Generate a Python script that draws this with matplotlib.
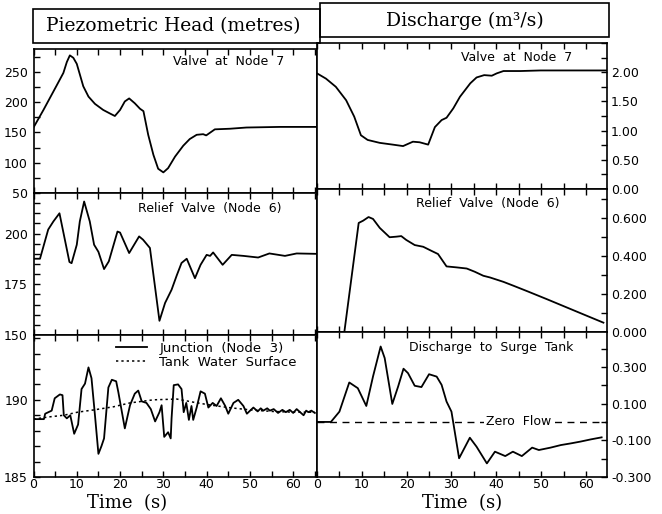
import numpy as np
import matplotlib
matplotlib.use("Agg")
import matplotlib.pyplot as plt
from matplotlib.patches import Rectangle
from matplotlib.ticker import MultipleLocator, FormatStrFormatter

plt.rcParams['font.family'] = 'DejaVu Sans'

### Data

# piezometric head at valve (node 7), m
t_h7 = [0, 2.3, 5.4, 6.9, 7.7, 8.4, 9.2, 10.0, 11.5, 12.7, 14.2, 16.1, 17.7, 18.8, 20.0,
        21.1, 22.1, 23.4, 24.6, 25.4, 26.5, 27.7, 28.8, 30.0, 31.1, 32.7, 34.6, 36.1,
        37.7, 39.2, 39.9, 41.9, 45.4, 49.2, 56.9, 65.5]
h_h7 = [158, 187, 228, 248, 266, 277, 273, 263, 226, 209, 197, 187, 181, 177, 187,
        201, 206, 198, 189, 185, 146, 113, 90, 84, 91, 110, 128, 139,
        146, 147, 145, 155, 156, 158, 159, 159]

# head at relief valve (node 6), m
t_h6 = [0, 1.5, 3.4, 4.6, 6.0, 8.3, 8.8, 10.0, 10.7, 11.7, 13.0, 14.0, 15.0, 16.3, 17.4,
        19.4, 20.0, 22.1, 24.4, 25.3, 26.9, 29.1, 30.4, 31.9, 33.1, 34.2, 35.4, 37.3,
        38.6, 40.0, 40.8, 41.5, 43.7, 45.8, 48.5, 51.9, 54.5, 58.1, 60.8, 65.5]
h_h6 = [187.6, 187.6, 202, 206, 210, 186, 185.4, 194.5, 206, 215.8, 206, 194.5, 191, 182.5, 186.3,
        201, 200.5, 190.4, 198.6, 197, 192.9, 157, 165.8, 172.3, 179.4, 185.5, 187.6, 178,
        184.6, 189.5, 189, 190.7, 184.6, 189.5, 189, 188.2, 190.2, 189, 190.2, 190]

# head at junction (node 3), m
t_h3 = [0, 2.4, 2.7, 4.2, 4.9, 6.1, 6.7, 7.0, 7.7, 8.5, 9.4, 10.3, 11.1, 11.9, 12.7, 13.4,
        14.2, 15.0, 15.7, 16.3, 17.3, 18.1, 19.1, 19.6, 21.1, 22.3, 23.4, 24.2, 25.0, 26.1,
        27.1, 28.1, 29.1, 29.6, 30.2, 31.1, 31.7, 31.9, 32.4, 33.4, 34.2, 34.7, 35.3, 35.9,
        36.5, 36.9, 37.7, 38.6, 39.6, 40.4, 41.4, 42.3, 43.3, 44.3, 45.0, 46.2, 47.3, 48.5,
        49.3, 50.8, 51.8, 52.5, 53.1, 54.0, 54.6, 55.5, 56.5, 57.5, 58.3, 59.2, 60.0, 60.8,
        61.6, 62.4, 63.0, 63.5, 64.2, 65.0]
h_h3 = [188.75, 188.75, 189.1, 189.3, 190.1, 190.35, 190.3, 189.0, 188.8, 189.0, 187.8, 188.4,
        190.7, 191.05, 192.1, 191.4, 189.0, 186.5, 187.0, 187.5, 190.8, 191.3, 191.2, 190.5,
        188.15, 189.65, 190.4, 190.6, 189.9, 189.8, 189.4, 188.6, 189.2, 189.65, 187.6, 187.9,
        187.5, 188.8, 190.95, 191.0, 190.7, 189.2, 189.8, 188.7, 189.6, 188.7, 189.5, 190.55,
        190.4, 189.5, 189.8, 189.6, 190.1, 189.6, 189.1, 189.8, 190.0, 189.6, 189.1, 189.5,
        189.25, 189.45, 189.3, 189.45, 189.3, 189.4, 189.15, 189.35, 189.2, 189.35, 189.15,
        189.4, 189.2, 189.0, 189.3, 189.2, 189.3, 189.15]

# surge tank water surface, m
t_tank = [0, 3.8, 7.0, 10.2, 14, 18.5, 22.3, 27.7, 33.1, 36.9, 40, 45, 50, 55, 60, 65]
h_tank = [188.75, 188.9, 189.0, 189.2, 189.35, 189.55, 189.8, 190.0, 190.05, 189.85, 189.7,
          189.5, 189.35, 189.25, 189.2, 189.2]

# discharge at valve (node 7), m3/s
t_q7 = [0, 2, 4.2, 6.5, 8.3, 9.8, 11.3, 14, 16.9, 19.2, 21.4, 22.9, 24.8, 26.3, 27.8, 28.9,
        30.4, 31.9, 34.2, 35.6, 37.3, 39, 40.1, 41.6, 45.4, 49.9, 64.7]
q_q7 = [1.98, 1.89, 1.75, 1.52, 1.24, 0.92, 0.84, 0.79, 0.76, 0.735, 0.81, 0.80, 0.76, 1.06,
        1.18, 1.22, 1.38, 1.58, 1.81, 1.91, 1.95, 1.94, 1.98, 2.02, 2.02, 2.03, 2.03]

# discharge through relief valve (node 6), m3/s
t_q6 = [0, 6.1, 9.3, 10.3, 11.5, 12.5, 14.0, 16.2, 17.7, 18.8, 19.9, 21.8, 23.7, 25.5, 27.0,
        28.9, 31.1, 33.4, 35.2, 37.1, 38.6, 41.6, 43.9, 46.9, 51.3, 55.8, 60.3, 63.9]
q_q6 = [0, 0, 0.572, 0.584, 0.603, 0.593, 0.546, 0.497, 0.5, 0.503, 0.483, 0.456, 0.447,
        0.426, 0.409, 0.344, 0.339, 0.333, 0.316, 0.295, 0.286, 0.263, 0.242, 0.214, 0.172,
        0.128, 0.084, 0.049]

# discharge to surge tank, m3/s
t_qs = [0, 3.1, 5.0, 7.2, 9.1, 11.0, 12.5, 14.2, 15.1, 16.8, 18.1, 19.3, 20.3, 21.8, 23.3,
        25.0, 26.7, 27.8, 28.9, 30.0, 31.7, 34.1, 35.6, 37.9, 39.7, 42.0, 43.7, 45.7, 48.0,
        49.5, 52.1, 54.4, 56.6, 58.8, 61.1, 63.5]
q_qs = [0, 0, 0.056, 0.215, 0.184, 0.087, 0.248, 0.411, 0.348, 0.098, 0.193, 0.29, 0.266,
        0.197, 0.19, 0.26, 0.247, 0.202, 0.111, 0.056, -0.198, -0.086, -0.135, -0.226,
        -0.162, -0.186, -0.162, -0.186, -0.14, -0.153, -0.14, -0.126, -0.117, -0.107,
        -0.095, -0.084]


### Figure

W, H = 662, 514
fig = plt.figure(figsize=(W / 100, H / 100), dpi=100)


def px_axes(x0, x1, y0, y1):
    return fig.add_axes([x0 / W, 1 - y1 / H, (x1 - x0) / W, (y1 - y0) / H])


lw = 1.3
tick_fs = 9
note_fs = 9

# left column
axL1 = px_axes(33.5, 317, 49, 193)
axL2 = px_axes(33.5, 317, 193, 335)
axL3 = px_axes(33.5, 317, 335, 477)
# right column
axR1 = px_axes(317, 607, 43, 189)
axR2 = px_axes(317, 607, 189, 332)
axR3 = px_axes(317, 607, 332, 477)

for ax in [axL1, axL2, axL3, axR1, axR2, axR3]:
    for s in ax.spines.values():
        s.set_linewidth(1.2)
    ax.xaxis.set_major_locator(MultipleLocator(10))
    ax.xaxis.set_minor_locator(MultipleLocator(5))
    ax.tick_params(which="both", direction="in", top=True, bottom=True,
                   length=4, width=1, labelsize=tick_fs, pad=2)
    ax.tick_params(axis="x", labelbottom=False)

for ax in [axL1, axL2, axL3]:
    ax.set_xlim(0, 65.5)
    ax.tick_params(axis="y", which="both", left=True, right=False, pad=4)
for ax in [axR1, axR2, axR3]:
    ax.set_xlim(0, 64.7)
    ax.yaxis.tick_right()
    ax.tick_params(axis="y", which="both", left=False, right=True, labelleft=False,
                   labelright=True, pad=3)

for ax in [axL3, axR3]:
    ax.tick_params(axis="x", labelbottom=True, pad=1)

# Piezometric head panels
axL1.plot(t_h7, h_h7, color="black", lw=lw)
axL1.set_ylim(50, 287.5)
axL1.set_yticks([50, 100, 150, 200, 250])
axL1.yaxis.set_minor_locator(MultipleLocator(25))
axL1.text(0.69, 0.91, "Valve  at  Node  7", transform=axL1.transAxes,
          ha="center", va="center", fontsize=note_fs)

axL2.plot(t_h6, h_h6, color="black", lw=lw)
axL2.set_ylim(150, 220)
axL2.set_yticks([150, 175, 200])
axL2.yaxis.set_minor_locator(MultipleLocator(5))
axL2.text(0.62, 0.89, "Relief  Valve  (Node  6)", transform=axL2.transAxes,
          ha="center", va="center", fontsize=note_fs)

axL3.plot(t_h3, h_h3, color="black", lw=lw, label="Junction  (Node  3)")
axL3.plot(t_tank, h_tank, color="black", lw=1.1, ls=(0, (1.5, 2)),
          label="Tank  Water  Surface")
axL3.set_ylim(185, 194.2)
axL3.set_yticks([185, 190])
axL3.yaxis.set_minor_locator(MultipleLocator(1))
axL3.legend(loc="upper left", bbox_to_anchor=(0.29, 0.95), frameon=False,
            fontsize=9.5, handlelength=2.4, handletextpad=0.9, labelspacing=0.05,
            borderpad=0, borderaxespad=0)

# Discharge panels
axR1.plot(t_q7, q_q7, color="black", lw=lw)
axR1.set_ylim(0, 2.5)
axR1.set_yticks([0, 0.5, 1.0, 1.5, 2.0])
axR1.yaxis.set_minor_locator(MultipleLocator(0.25))
axR1.yaxis.set_major_formatter(FormatStrFormatter("%.2f"))
axR1.text(0.69, 0.9, "Valve  at  Node  7", transform=axR1.transAxes,
          ha="center", va="center", fontsize=note_fs)

axR2.plot(t_q6, q_q6, color="black", lw=lw)
axR2.set_ylim(0, 0.75)
axR2.set_yticks([0, 0.2, 0.4, 0.6])
axR2.yaxis.set_minor_locator(MultipleLocator(0.1))
axR2.yaxis.set_major_formatter(FormatStrFormatter("%.3f"))
axR2.text(0.59, 0.9, "Relief  Valve  (Node  6)", transform=axR2.transAxes,
          ha="center", va="center", fontsize=note_fs)

axR3.plot(t_qs, q_qs, color="black", lw=lw)
axR3.axhline(0, color="black", lw=1, dashes=(5, 4))
axR3.set_ylim(-0.3, 0.49)
axR3.set_yticks([-0.3, -0.1, 0.1, 0.3])
axR3.yaxis.set_minor_locator(MultipleLocator(0.1))
axR3.yaxis.set_major_formatter(FormatStrFormatter("%.3f"))
axR3.text(0.6, 0.89, "Discharge  to  Surge  Tank", transform=axR3.transAxes,
          ha="center", va="center", fontsize=note_fs)
axR3.text(0.695, 0.0, "Zero  Flow", transform=axR3.get_yaxis_transform(),
          ha="center", va="center", fontsize=note_fs,
          bbox=dict(facecolor="white", edgecolor="none", pad=1.5))

# x-axis titles
for ax in [axL3, axR3]:
    ax.set_xlabel("Time  (s)", family="DejaVu Serif", fontsize=13, labelpad=2)
axL3.xaxis.label.set_x(0.33)

# header boxes
fig.patches.append(Rectangle((33 / W, 1 - 43 / H), (320 - 33) / W, 34 / H,
                             transform=fig.transFigure, fill=False, lw=1.2,
                             edgecolor="black"))
fig.patches.append(Rectangle((320 / W, 1 - 37 / H), (609 - 320) / W, 34 / H,
                             transform=fig.transFigure, fill=False, lw=1.2,
                             edgecolor="black"))
fig.text(173 / W, 1 - 26 / H, "Piezometric Head (metres)", family="DejaVu Serif",
         fontsize=13.5, ha="center", va="center")
fig.text(464.5 / W, 1 - 21 / H, "Discharge (m³/s)", family="DejaVu Serif",
         fontsize=13.5, ha="center", va="center")

fig.savefig("out.png", dpi=100)
